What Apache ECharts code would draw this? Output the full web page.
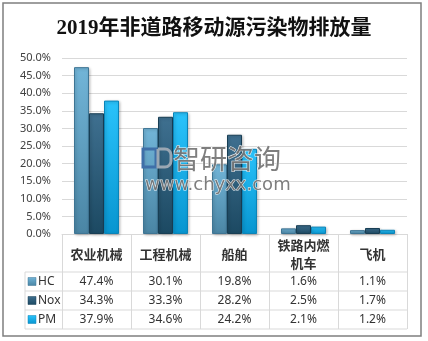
<!DOCTYPE html>
<html><head><meta charset="utf-8">
<script src="https://cdn.jsdelivr.net/npm/echarts@6/dist/echarts.min.js"></script>
<style>html,body{margin:0;padding:0;background:#fff}#c{width:428px;height:341px}</style>
</head><body><div id="c"></div>
<script>
var title = '2019年非道路移动源污染物排放量';
var categories = ['农业机械', '工程机械', '船舶', '铁路内燃机车', '飞机'];
var seriesNames = ['HC', 'Nox', 'PM'];
var hcValues = [47.4, 30.1, 19.8, 1.6, 1.1];
var noxValues = [34.3, 33.3, 28.2, 2.5, 1.7];
var pmValues = [37.9, 34.6, 24.2, 2.1, 1.2];
var yTicks = [0, 5, 10, 15, 20, 25, 30, 35, 40, 45, 50];

var allValues = [hcValues, noxValues, pmValues];
var colors = [
  ['#72b5d8', '#4a85a4', '#3e7594'],
  ['#3f7090', '#1c4962', '#183e54'],
  ['#2ac3fb', '#0795d0', '#0a84b8']
];
var chart = echarts.init(document.getElementById('c'), null, {renderer: 'canvas'});

var gridLeft = 62, gridRight = 407, gridBottomY = 234;
var rowYs = [272, 291, 310, 329];
var graphics = [
  {type: 'rect', shape: {x: 3, y: 3, width: 418, height: 333}, style: {fill: null, stroke: '#7f7f7f', lineWidth: 1.5}, silent: true},
  {type: 'line', shape: {x1: 25, y1: rowYs[0], x2: 25, y2: rowYs[3]}, style: {stroke: '#d9d9d9', lineWidth: 1}},
  // watermark
  {type: 'rect', shape: {x: 143, y: 149, width: 13, height: 18}, style: {fill: null, stroke: '#3f6fa8', lineWidth: 3}, z: 10},
  {type: 'rect', shape: {x: 158, y: 149, width: 13, height: 18, r: [0, 6, 6, 0]}, style: {fill: null, stroke: '#9aa7b3', lineWidth: 3}, z: 10},
  {type: 'text', x: 173, y: 159, style: {text: '智研咨询', font: '27px "Noto Sans CJK SC"', fill: '#707070', stroke: '#ffffff', lineWidth: 1, verticalAlign: 'middle', opacity: 0.9}, z: 10},
  {type: 'text', x: 145, y: 185, style: {text: 'www.chyxx.com', font: '18px "DejaVu Sans"', fill: '#707070', stroke: '#ffffff', lineWidth: 1, verticalAlign: 'middle', opacity: 0.9}, z: 10}
];
rowYs.forEach(function (y) {
  graphics.push({type: 'line', shape: {x1: 25, y1: y, x2: gridRight, y2: y}, style: {stroke: '#d9d9d9', lineWidth: 1}});
});
seriesNames.forEach(function (n, i) {
  var cy = (rowYs[i] + rowYs[i + 1]) / 2;
  graphics.push({type: 'rect', shape: {x: 28, y: cy - 4, width: 8, height: 8},
    style: {fill: new echarts.graphic.LinearGradient(0, 0, 0, 1, [{offset: 0, color: colors[i][0]}, {offset: 1, color: colors[i][1]}]), stroke: colors[i][2], lineWidth: 0.5}});
  graphics.push({type: 'text', x: 38, y: cy, style: {text: n, font: '12px "Noto Sans"', fill: '#333', verticalAlign: 'middle'}});
});

var xAxes = [{
  type: 'category', data: categories, position: 'bottom',
  axisLine: {show: true, lineStyle: {color: '#d9d9d9'}},
  axisTick: {show: true, length: 95, interval: 0, lineStyle: {color: '#d9d9d9'}},
  axisLabel: {interval: 0, margin: 20, verticalAlign: 'middle', width: 60, overflow: 'break', lineHeight: 18,
    fontSize: 13, fontWeight: 'bold', color: '#333', fontFamily: '"Noto Sans CJK SC"'}
}];
allValues.forEach(function (vals, i) {
  xAxes.push({
    type: 'category', data: categories, position: 'bottom',
    axisLine: {show: false}, axisTick: {show: false}, splitLine: {show: false},
    axisLabel: {interval: 0, margin: [48, 67, 86][i], verticalAlign: 'middle', fontSize: 12, color: '#333', fontFamily: '"Noto Sans"',
      formatter: function (v, idx) { return vals[idx].toFixed(1) + '%'; }}
  });
});

chart.setOption({
  animation: false,
  title: {text: title, left: 'center', top: 13, textStyle: {fontSize: 21, fontWeight: 'bold', color: '#111', fontFamily: '"Liberation Serif","Noto Sans CJK SC"'}},
  grid: {left: gridLeft, right: 428 - gridRight, top: 58, bottom: 341 - gridBottomY},
  xAxis: xAxes,
  yAxis: {type: 'value', min: yTicks[0], max: yTicks[yTicks.length - 1], interval: yTicks[1] - yTicks[0],
    axisLine: {show: false}, axisTick: {show: false},
    splitLine: {lineStyle: {color: '#d9d9d9'}},
    axisLabel: {margin: 11, fontSize: 11, color: '#404040', fontFamily: '"Noto Sans"', formatter: function (v) { return v.toFixed(1) + '%'; }}},
  series: allValues.map(function (vals, i) {
    return {type: 'bar', name: seriesNames[i], data: vals, barWidth: 15, barGap: '0%', xAxisIndex: 0,
      itemStyle: {color: new echarts.graphic.LinearGradient(0, 0, 0, 1, [{offset: 0, color: colors[i][0]}, {offset: 1, color: colors[i][1]}]),
        borderColor: colors[i][2], borderWidth: 1, shadowColor: 'rgba(0,0,0,0.25)', shadowBlur: 3, shadowOffsetX: 1, shadowOffsetY: 1}};
  }),
  graphic: graphics
});
</script></body></html>
